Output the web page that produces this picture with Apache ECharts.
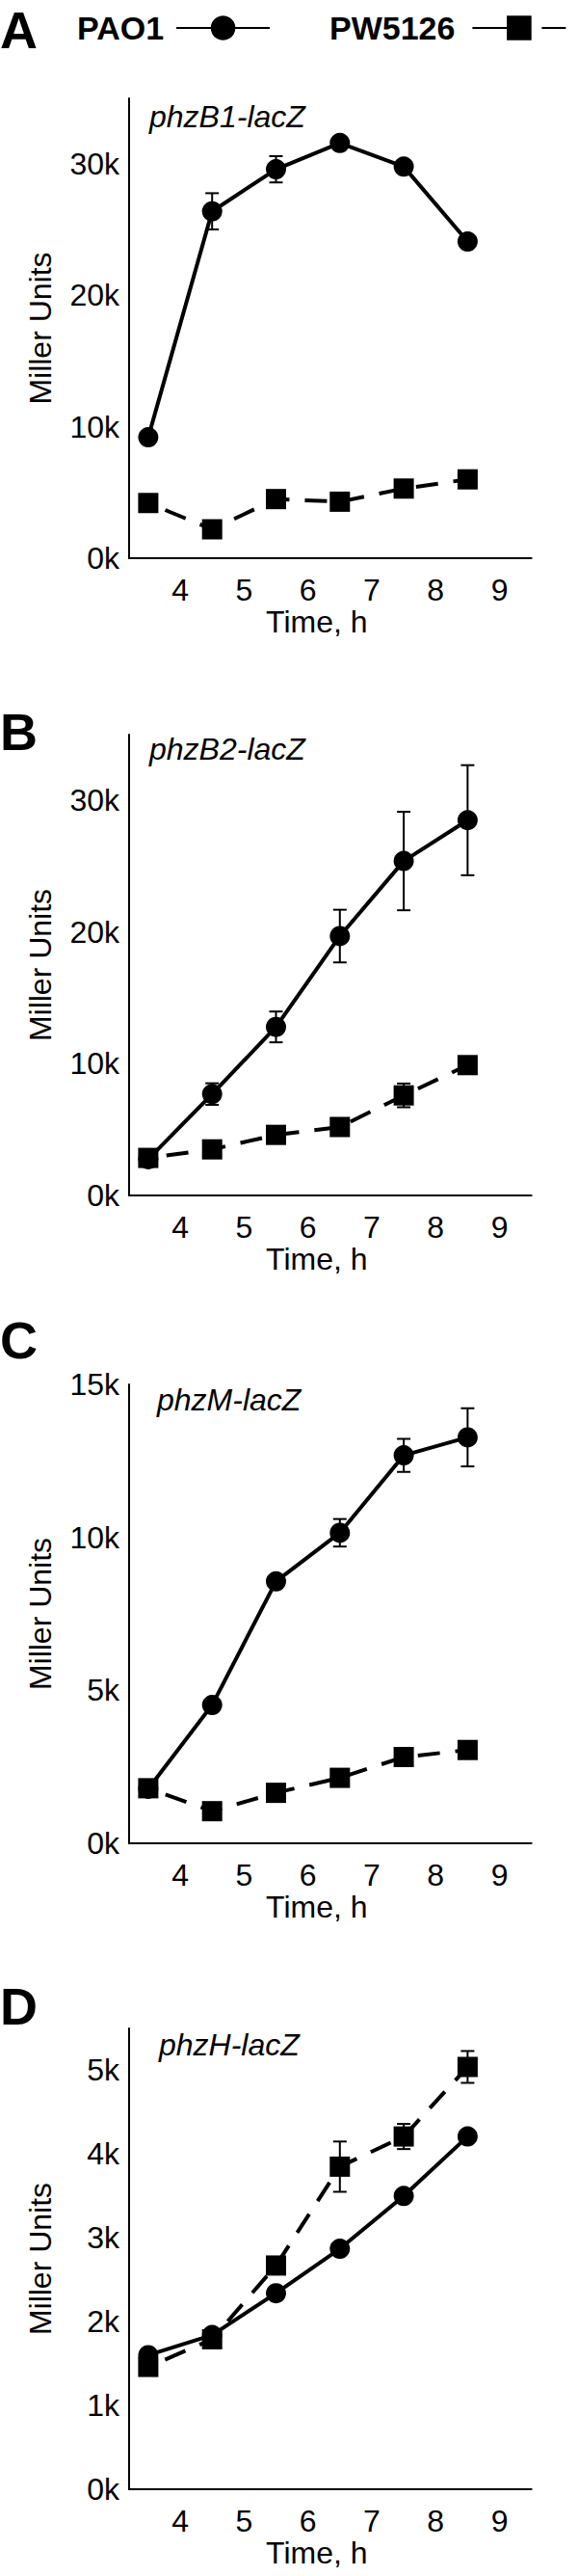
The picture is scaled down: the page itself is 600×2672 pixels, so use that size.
<!DOCTYPE html>
<html><head><meta charset="utf-8">
<script src="https://cdn.jsdelivr.net/npm/echarts@6/dist/echarts.min.js"></script>
<style>html,body{margin:0;padding:0;background:#fff}#c{width:600px;height:2672px}</style>
</head><body><div id="c"></div>
<script>
// ---------- DATA ----------
const times = [3.5, 4.5, 5.5, 6.5, 7.5, 8.5];
const xTickValues = [4, 5, 6, 7, 8, 9];
const seriesNames = ['PAO1', 'PW5126'];
const panelLetters = ['A', 'B', 'C', 'D'];
const geneLabels = ['phzB1-lacZ', 'phzB2-lacZ', 'phzM-lacZ', 'phzH-lacZ'];

// Panel A (phzB1-lacZ)
const pao1A = [9200, 26400, 29600, 31600, 29800, 24100];
const pao1AErr = [0, 1380, 1000, 0, 0, 300];
const pwA = [4200, 2200, 4500, 4300, 5300, 6000];
const pwAErr = [0, 0, 0, 0, 0, 0];
const yTicksA = [0, 10000, 20000, 30000];
const yMaxA = 35000;

// Panel B (phzB2-lacZ)
const pao1B = [2750, 7700, 12800, 19700, 25400, 28500];
const pao1BErr = [0, 820, 1170, 2000, 3740, 4180];
const pwB = [2850, 3500, 4600, 5200, 7600, 9900];
const pwBErr = [0, 0, 0, 0, 900, 0];
const yTicksB = [0, 10000, 20000, 30000];
const yMaxB = 35000;

// Panel C (phzM-lacZ)
const pao1C = [1780, 4520, 8560, 10150, 12680, 13270];
const pao1CErr = [0, 0, 0, 450, 540, 950];
const pwC = [1800, 1050, 1650, 2140, 2820, 3050];
const pwCErr = [0, 0, 0, 0, 0, 0];
const yTicksC = [0, 5000, 10000, 15000];
const yMaxC = 15000;

// Panel D (phzH-lacZ)
const pao1D = [1600, 1840, 2340, 2870, 3500, 4210];
const pao1DErr = [0, 0, 0, 0, 0, 0];
const pwD = [1460, 1790, 2670, 3850, 4210, 5040];
const pwDErr = [0, 0, 0, 300, 150, 190];
const yTicksD = [0, 1000, 2000, 3000, 4000, 5000];
const yMaxD = 5500;

// ---------- LAYOUT ----------
const FONT = '"Liberation Sans", Arial, Helvetica, sans-serif';
const gridTops = [102, 762, 1436, 2104];
const gridHeights = [477, 478, 476, 478];
const letterYs = [31, 758.5, 1389.5, 2080.5];
const geneXs = [155, 155, 163, 165];
const geneYs = [121, 777, 1452, 2121];

const panels = [
  {pao1: pao1A, pao1Err: pao1AErr, pw: pwA, pwErr: pwAErr, yTicks: yTicksA, yMax: yMaxA},
  {pao1: pao1B, pao1Err: pao1BErr, pw: pwB, pwErr: pwBErr, yTicks: yTicksB, yMax: yMaxB},
  {pao1: pao1C, pao1Err: pao1CErr, pw: pwC, pwErr: pwCErr, yTicks: yTicksC, yMax: yMaxC},
  {pao1: pao1D, pao1Err: pao1DErr, pw: pwD, pwErr: pwDErr, yTicks: yTicksD, yMax: yMaxD}
];

function errRender(params, api) {
  const x = api.value(0), lo = api.value(1), hi = api.value(2);
  if (hi - lo <= 0) return null;
  const pLo = api.coord([x, lo]), pHi = api.coord([x, hi]);
  const hw = 7;
  const style = {stroke: '#000', lineWidth: 2};
  return {type: 'group', children: [
    {type: 'line', shape: {x1: pLo[0], y1: pLo[1], x2: pHi[0], y2: pHi[1]}, style: style},
    {type: 'line', shape: {x1: pLo[0] - hw, y1: pLo[1], x2: pLo[0] + hw, y2: pLo[1]}, style: style},
    {type: 'line', shape: {x1: pHi[0] - hw, y1: pHi[1], x2: pHi[0] + hw, y2: pHi[1]}, style: style}
  ]};
}

const grid = [], xAxis = [], yAxis = [], series = [], graphic = [];
panels.forEach((p, i) => {
  grid.push({left: 134, right: 48.3, top: gridTops[i], height: gridHeights[i], containLabel: false});
  xAxis.push({
    type: 'value', gridIndex: i, min: 3.2, max: 9.5,
    name: 'Time, h', nameLocation: 'middle', nameGap: 50,
    nameTextStyle: {fontSize: 32, color: '#000', fontFamily: FONT, padding: [0, 28, 0, 0]},
    axisLine: {show: true, onZero: false, lineStyle: {color: '#000', width: 2}},
    axisTick: {show: false}, splitLine: {show: false},
    axisLabel: {customValues: xTickValues, fontSize: 32, color: '#000', fontFamily: FONT, margin: 17}
  });
  yAxis.push({
    type: 'value', gridIndex: i, min: 0, max: p.yMax,
    name: 'Miller Units', nameLocation: 'middle', nameGap: 76,
    nameTextStyle: {fontSize: 32, color: '#000', fontFamily: FONT},
    axisLine: {show: true, lineStyle: {color: '#000', width: 2}},
    axisTick: {show: false}, splitLine: {show: false},
    axisLabel: {customValues: p.yTicks, fontSize: 32, color: '#000', fontFamily: FONT, margin: 10,
      formatter: v => (v / 1000) + 'k'}
  });
  series.push({
    type: 'custom', name: 'err-pao1-' + i, xAxisIndex: i, yAxisIndex: i, renderItem: errRender, z: 1,
    encode: {x: 0, y: [1, 2]}, silent: true,
    data: times.map((t, k) => [t, p.pao1[k] - p.pao1Err[k], p.pao1[k] + p.pao1Err[k]])
  });
  series.push({
    type: 'custom', name: 'err-pw-' + i, xAxisIndex: i, yAxisIndex: i, renderItem: errRender, z: 1,
    encode: {x: 0, y: [1, 2]}, silent: true,
    data: times.map((t, k) => [t, p.pw[k] - p.pwErr[k], p.pw[k] + p.pwErr[k]])
  });
  series.push({
    type: 'line', name: seriesNames[1], xAxisIndex: i, yAxisIndex: i, z: 2,
    data: times.map((t, k) => [t, p.pw[k]]),
    symbol: 'rect', symbolSize: 21, showSymbol: true,
    lineStyle: {color: '#000', width: 4, type: [23, 16], dashOffset: 20},
    itemStyle: {color: '#000'}
  });
  series.push({
    type: 'line', name: seriesNames[0], xAxisIndex: i, yAxisIndex: i, z: 3,
    data: times.map((t, k) => [t, p.pao1[k]]),
    symbol: 'circle', symbolSize: 21, showSymbol: true,
    lineStyle: {color: '#000', width: 4, type: 'solid'},
    itemStyle: {color: '#000'}
  });
  graphic.push({type: 'text', x: 0, y: letterYs[i],
    style: {text: panelLetters[i], font: 'bold 54px ' + FONT, fill: '#000', verticalAlign: 'middle', align: 'left', lineHeight: 44}});
  graphic.push({type: 'text', x: geneXs[i], y: geneYs[i],
    style: {text: geneLabels[i], font: 'italic 32px ' + FONT, fill: '#000', verticalAlign: 'middle', align: 'left'}});
});

const legendBase = {
  orient: 'horizontal', align: 'right', itemWidth: 97, itemHeight: 32, padding: 0, top: 12,
  selectedMode: false
};
const option = {
  animation: false,
  backgroundColor: '#fff',
  textStyle: {fontFamily: FONT},
  grid, xAxis, yAxis, series, graphic,
  legend: [
    Object.assign({}, legendBase, {data: [seriesNames[0]], left: 80,
      textStyle: {fontSize: 34, fontWeight: 'bold', color: '#000', fontFamily: FONT, padding: [0, 8, 0, 0]}}),
    Object.assign({}, legendBase, {data: [seriesNames[1]], left: 342,
      lineStyle: {type: [36, 36], dashOffset: 0},
      textStyle: {fontSize: 34, fontWeight: 'bold', color: '#000', fontFamily: FONT, padding: [0, 13, 0, 0]}})
  ]
};
const chart = echarts.init(document.getElementById('c'), null, {renderer: 'svg', width: 600, height: 2672});
chart.setOption(option);
</script>
</body></html>
